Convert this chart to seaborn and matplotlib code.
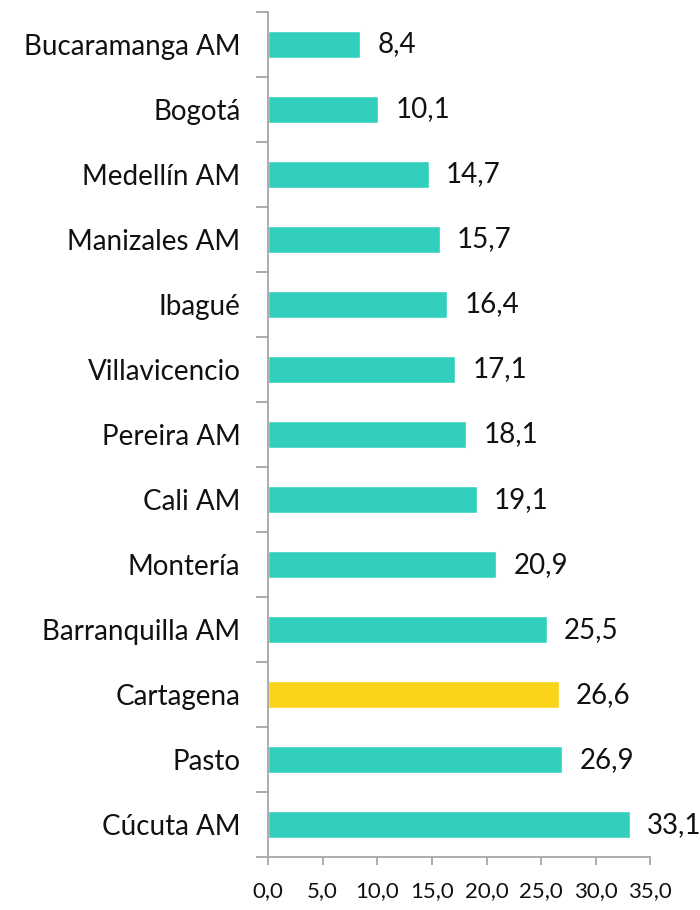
import numpy as np
import pandas as pd
import matplotlib.pyplot as plt
import seaborn as sns
from matplotlib.ticker import FixedLocator

ciudades = ["Bucaramanga AM", "Bogotá", "Medellín AM", "Manizales AM", "Ibagué",
            "Villavicencio", "Pereira AM", "Cali AM", "Montería", "Barranquilla AM",
            "Cartagena", "Pasto", "Cúcuta AM"]
valores = [8.4, 10.1, 14.7, 15.7, 16.4, 17.1, 18.1, 19.1, 20.9, 25.5, 26.6, 26.9, 33.1]
resaltar = "Cartagena"
x_ticks = [0, 5, 10, 15, 20, 25, 30, 35]

sns.set_style("white")
plt.rcParams['font.family'] = ['Lato', 'DejaVu Sans']

df = pd.DataFrame({"ciudad": ciudades, "valor": valores})
df["grupo"] = np.where(df["ciudad"] == resaltar, "si", "no")

fig = plt.figure(figsize=(7, 9.1), dpi=100)
ax = fig.add_axes([0.383, 0.058, 0.546, 0.929])

sns.barplot(data=df, x="valor", y="ciudad", hue="grupo",
            palette={"no": "#33CFBE", "si": "#F8D317"},
            width=0.42, dodge=False, legend=False, ax=ax, saturation=1)

for y, v in enumerate(valores):
    ax.text(v + 1.6, y, f"{v:.1f}".replace(".", ","), va="center", ha="left",
            fontsize=20, color="#111111")

ax.set_xlim(0, 35)
ax.set_ylim(len(ciudades) - 0.5, -0.5)
ax.set_xticks(x_ticks)
ax.set_xticklabels([f"{t:.1f}".replace(".", ",") for t in x_ticks], fontsize=16)
ax.set_xlabel("")
ax.set_ylabel("")
ax.tick_params(axis="y", which="major", left=False, length=0, labelsize=20,
               pad=20, labelcolor="#111111")
ax.yaxis.set_minor_locator(FixedLocator(np.arange(-0.5, len(ciudades), 1)))
ax.tick_params(axis="y", which="minor", left=True, length=9, color="#A6A6A6",
               width=1.3, direction="out")
ax.tick_params(axis="x", which="major", bottom=True, length=6, color="#A6A6A6",
               width=1.3, direction="out", pad=11, labelcolor="#111111")

sns.despine(ax=ax, top=True, right=True)
for s in ["left", "bottom"]:
    ax.spines[s].set_color("#A6A6A6")
    ax.spines[s].set_linewidth(1.3)

fig.savefig("out.png", dpi=100)
